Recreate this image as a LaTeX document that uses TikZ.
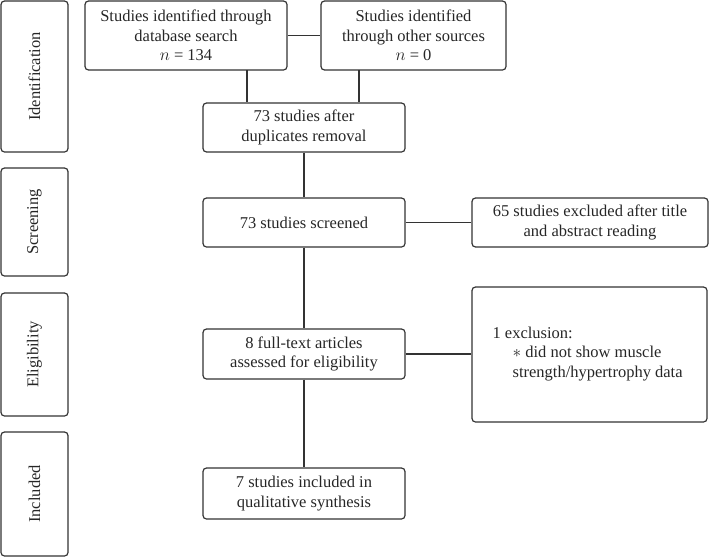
\documentclass[tikz,border=0pt]{standalone}
\usepackage{fontspec}
\setmainfont{Liberation Serif}
\begin{document}
\begin{tikzpicture}[x=1pt,y=-1pt,
  box/.style={draw=black!80, line width=1.2pt, rounded corners=3.5pt, inner sep=0pt, align=center, font=\fontsize{16.5}{19.5}\selectfont, text=black!85},
  side/.style={box, rotate=90},
  conn/.style={draw=black!80, line width=1.2pt}]
\useasboundingbox (0,0) rectangle (709,557);
% side boxes
\node[side, minimum width=151, minimum height=67] (idl) at (34.5,76.5) {Identification};
\node[side, minimum width=108, minimum height=67] (scr) at (34.5,222) {Screening};
\node[side, minimum width=123, minimum height=67] (eli) at (34.5,354.5) {Eligibility};
\node[side, minimum width=124, minimum height=67] (inc) at (34.5,494) {Included};
% flow boxes
\node[box, minimum width=202, minimum height=69] (A) at (186,35.5) {Studies identified through\\database search\\$n$ = 134};
\node[box, minimum width=185, minimum height=69] (B) at (413.5,35.5) {Studies identified\\through other sources\\$n$ = 0};
\node[box, minimum width=202, minimum height=49] (C) at (304,127.5) {73 studies after\\duplicates removal};
\node[box, minimum width=202, minimum height=49] (D) at (304,222.5) {73 studies screened};
\node[box, minimum width=236, minimum height=49] (E) at (590,222.5) {65 studies excluded after title\\and abstract reading};
\node[box, minimum width=202, minimum height=50] (F) at (304,354) {8 full-text articles\\assessed for eligibility};
\node[box, minimum width=235, minimum height=135] (G) at (589.5,354.5) {};
\node[box, draw=none, align=left, anchor=west] (Gt) at (492,354) {1 exclusion:\\\hspace*{20pt}$\ast$ did not show muscle\\\hspace*{20pt}strength/hypertrophy data};
\node[box, minimum width=202, minimum height=51] (H) at (304,493.5) {7 studies included in\\qualitative synthesis};
% connectors
\coordinate (a1) at (247,70);
\coordinate (b1) at (359,70);
\draw[conn] (A.east) -- (B.west);
\draw[conn] (a1) -- (a1 |- C.north);
\draw[conn] (b1) -- (b1 |- C.north);
\draw[conn] (C.south) -- (D.north);
\draw[conn] (D.east) -- (E.west);
\draw[conn] (D.south) -- (F.north);
\draw[conn] (F.east) -- (G.west |- F.east);
\draw[conn] (F.south) -- (H.north);
\end{tikzpicture}
\end{document}
